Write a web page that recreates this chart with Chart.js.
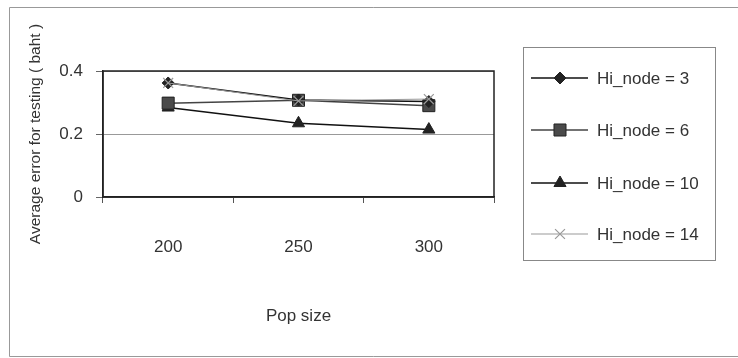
<!DOCTYPE html>
<html>
<head>
<meta charset="utf-8">
<script src="https://cdn.jsdelivr.net/npm/chart.js@4"></script>
<style>
  html, body { margin: 0; padding: 0; background: #fff; }
  #wrap { width: 738px; height: 358px; }
</style>
</head>
<body>
<div id="wrap"><canvas id="chart" width="738" height="358"></canvas></div>
<script>
const popSizes = ['200', '250', '300'];
const node3 = [0.362, 0.308, 0.303];
const node6 = [0.298, 0.307, 0.290];
const node10 = [0.284, 0.234, 0.214];
const node14 = [0.362, 0.305, 0.311];

const font = "'Liberation Sans', Arial, sans-serif";
const textColor = '#333';

// frame round the whole chart, box round the plot area and the legend
const framePlugin = {
    id: 'frame',
    beforeDraw(chart) {
        const ctx = chart.ctx;
        ctx.save();
        ctx.fillStyle = '#fff';
        ctx.fillRect(0, 0, chart.width, chart.height);
        ctx.strokeStyle = '#999';
        ctx.lineWidth = 1;
        ctx.beginPath();
        ctx.moveTo(738, 7.5);
        ctx.lineTo(9.5, 7.5);
        ctx.lineTo(9.5, 356.5);
        ctx.lineTo(738, 356.5);
        ctx.stroke();
        ctx.restore();
    },
    afterDatasetsDraw(chart) {
        const a = chart.chartArea;
        const ctx = chart.ctx;
        ctx.save();
        ctx.strokeStyle = '#222';
        ctx.lineWidth = 1.5;
        ctx.strokeRect(a.left, a.top, a.right - a.left, a.bottom - a.top);
        ctx.restore();
    },
    afterDraw(chart) {
        const ctx = chart.ctx;
        ctx.save();
        ctx.strokeStyle = '#888';
        ctx.lineWidth = 1;
        ctx.strokeRect(523.5, 47.5, 192, 213);
        const rows = [78, 130, 183, 234];
        chart.data.datasets.forEach((ds, i) => {
            const y = rows[i];
            ctx.strokeStyle = ds.borderColor;
            ctx.lineWidth = ds.borderWidth;
            ctx.beginPath();
            ctx.moveTo(531, y);
            ctx.lineTo(588, y);
            ctx.stroke();
            ctx.fillStyle = ds.pointBackgroundColor;
            ctx.strokeStyle = ds.pointBorderColor;
            ctx.lineWidth = ds.pointBorderWidth;
            ctx.beginPath();
            Chart.helpers.drawPoint(ctx, {
                pointStyle: ds.pointStyle,
                radius: ds.pointRadius,
                borderWidth: ds.pointBorderWidth
            }, 560, y);
            ctx.fillStyle = textColor;
            ctx.font = '17px ' + font;
            ctx.textBaseline = 'middle';
            ctx.textAlign = 'left';
            ctx.fillText(ds.label, 597, y + 1);
        });
        ctx.restore();
    }
};

const datasets = [
    {
        label: 'Hi_node = 3',
        data: node3,
        borderColor: '#111',
        borderWidth: 1.5,
        pointStyle: 'rectRot',
        pointRadius: 6,
        pointBackgroundColor: '#222',
        pointBorderColor: '#222',
        pointBorderWidth: 1,
        order: 2
    },
    {
        label: 'Hi_node = 6',
        data: node6,
        borderColor: '#444',
        borderWidth: 1.5,
        pointStyle: 'rect',
        pointRadius: 8.5,
        pointBackgroundColor: '#4a4a4a',
        pointBorderColor: '#222',
        pointBorderWidth: 1,
        order: 3
    },
    {
        label: 'Hi_node = 10',
        data: node10,
        borderColor: '#111',
        borderWidth: 1.5,
        pointStyle: 'triangle',
        pointRadius: 7,
        pointBackgroundColor: '#222',
        pointBorderColor: '#222',
        pointBorderWidth: 1,
        order: 4
    },
    {
        label: 'Hi_node = 14',
        data: node14,
        borderColor: '#999',
        borderWidth: 1,
        pointStyle: 'crossRot',
        pointRadius: 7,
        pointBackgroundColor: '#999',
        pointBorderColor: '#999',
        pointBorderWidth: 1.2,
        order: 1
    }
];

new Chart(document.getElementById('chart'), {
    type: 'line',
    data: { labels: popSizes, datasets: datasets },
    options: {
        responsive: false,
        animation: false,
        layout: { padding: { left: 10, top: 71, right: 244, bottom: 0 } },
        plugins: {
            legend: { display: false },
            tooltip: { enabled: false }
        },
        scales: {
            x: {
                offset: true,
                afterFit(scale) { scale.height = 161; },
                grid: {
                    offset: true,
                    drawOnChartArea: false,
                    tickLength: 6,
                    color: '#555'
                },
                border: { color: '#222', width: 1.5 },
                ticks: {
                    padding: 34,
                    color: textColor,
                    font: { family: font, size: 17 }
                },
                title: {
                    display: true,
                    text: 'Pop size',
                    color: textColor,
                    font: { family: font, size: 17 },
                    padding: { top: 0, bottom: 31 }
                }
            },
            y: {
                min: 0,
                max: 0.4,
                afterFit(scale) { scale.width = 93; },
                grid: {
                    color: '#999',
                    tickColor: '#666',
                    tickLength: 7
                },
                border: { color: '#222', width: 1.5 },
                ticks: {
                    stepSize: 0.2,
                    padding: 13,
                    color: textColor,
                    font: { family: font, size: 17 }
                },
                title: {
                    display: true,
                    text: 'Average error for testing ( baht )',
                    color: textColor,
                    font: { family: font, size: 15.5 },
                    padding: { top: 16, bottom: 0 }
                }
            }
        }
    },
    plugins: [framePlugin]
});
</script>
</body>
</html>
